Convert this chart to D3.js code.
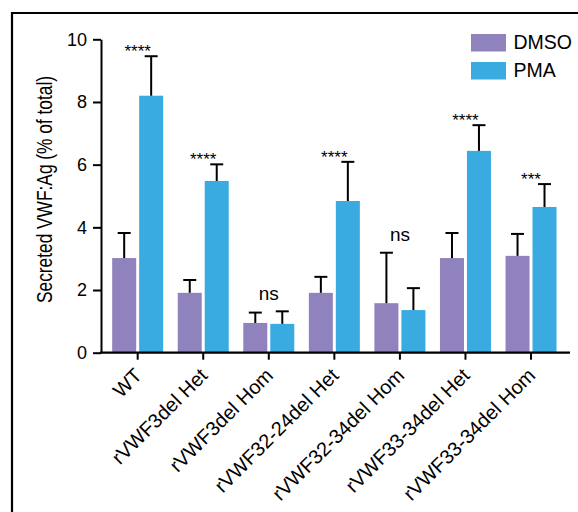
<!DOCTYPE html>
<html>
<head>
<meta charset="utf-8">
<script src="https://cdn.jsdelivr.net/npm/d3@7"></script>
<style>
  body { margin: 0; background: #fff; }
  svg text { font-family: "Liberation Sans", Arial, Helvetica, sans-serif; }
</style>
</head>
<body>
<script>
// data
const groups = ['WT', 'rVWF3del Het', 'rVWF3del Hom', 'rVWF32-24del Het',
                'rVWF32-34del Hom', 'rVWF33-34del Het', 'rVWF33-34del Hom']
const series = ['DMSO', 'PMA']
const dmso = [3.02, 1.91, 0.95, 1.91, 1.58, 3.02, 3.09]
const dmsoErr = [0.80, 0.41, 0.33, 0.51, 1.61, 0.80, 0.70]
const pma = [8.20, 5.48, 0.92, 4.84, 1.36, 6.44, 4.65]
const pmaErr = [1.26, 0.53, 0.40, 1.25, 0.70, 0.82, 0.73]
const signif = ['****', '****', 'ns', '****', 'ns', '****', '***']
const yTicks = [0, 2, 4, 6, 8, 10]

const colors = {DMSO: '#9083bd', PMA: '#39abe1'}

let width = 578, height = 512

const svg = d3.select('body')
    .append('svg')
    .attr('width', width)
    .attr('height', height)

// frame (only left and top visible)
svg.append('path')
    .attr('d', 'M12,512V13H578')
    .attr('fill', 'none')
    .attr('stroke', '#000')
    .attr('stroke-width', 2.2)

const xScale = d3.scaleBand()
    .domain(groups)
    .range([104.9, 563.8])
    .padding(0)

const subScale = d3.scaleBand()
    .domain(series)
    .range([-25.5, 25.5])
    .paddingInner(0.11)

const yScale = d3.scaleLinear()
    .domain([0, 10])
    .range([352.7, 39.3])

const rows = groups.map((g, i) => ({
    group: g,
    vals: [
        {key: 'DMSO', v: dmso[i], e: dmsoErr[i]},
        {key: 'PMA', v: pma[i], e: pmaErr[i]}
    ],
    sig: signif[i]
}))

const cx = g => xScale(g) + xScale.bandwidth() / 2

// bars
const grp = svg.selectAll('g.grp')
    .data(rows)
    .enter()
    .append('g')
    .attr('class', 'grp')
    .attr('transform', d => 'translate(' + cx(d.group) + ',0)')

grp.selectAll('rect')
    .data(d => d.vals)
    .enter()
    .append('rect')
    .attr('x', d => subScale(d.key))
    .attr('width', subScale.bandwidth())
    .attr('y', d => yScale(d.v))
    .attr('height', d => yScale(0) - yScale(d.v))
    .attr('fill', d => colors[d.key])

// error bars (upper only)
const err = grp.selectAll('g.err')
    .data(d => d.vals)
    .enter()
    .append('g')
    .attr('class', 'err')
    .attr('stroke', '#000')
    .attr('stroke-width', 2)

err.append('line')
    .attr('x1', d => subScale(d.key) + subScale.bandwidth() / 2)
    .attr('x2', d => subScale(d.key) + subScale.bandwidth() / 2)
    .attr('y1', d => yScale(d.v))
    .attr('y2', d => yScale(d.v + d.e))

err.append('line')
    .attr('x1', d => subScale(d.key) + subScale.bandwidth() / 2 - 6.5)
    .attr('x2', d => subScale(d.key) + subScale.bandwidth() / 2 + 6.5)
    .attr('y1', d => yScale(d.v + d.e))
    .attr('y2', d => yScale(d.v + d.e))

// significance labels
grp.append('text')
    .attr('x', 0)
    .attr('y', d => {
        const top = yScale(d3.max(d.vals, v => v.v + v.e))
        return d.sig === 'ns' ? top - 11.5 : top + 1
    })
    .attr('text-anchor', 'middle')
    .attr('font-size', d => d.sig === 'ns' ? '19px' : '17px')
    .text(d => d.sig)

// y axis
const yAxis = d3.axisLeft(yScale)
    .tickValues(yTicks)
    .tickSize(8)
    .tickSizeOuter(0)
    .tickPadding(6)

const yG = svg.append('g')
    .attr('transform', 'translate(101,0)')
    .call(yAxis)
yG.selectAll('path, line').attr('stroke', '#000').attr('stroke-width', 2)
yG.selectAll('text').attr('font-size', '18px').attr('fill', '#000')
    .style('font-family', '"Liberation Sans", Arial, sans-serif')

// x axis
svg.append('line')
    .attr('x1', 100)
    .attr('x2', 570)
    .attr('y1', yScale(0))
    .attr('y2', yScale(0))
    .attr('stroke', '#000')
    .attr('stroke-width', 2.2)

const xAxis = d3.axisBottom(xScale).tickSize(7).tickSizeOuter(0)
const xG = svg.append('g')
    .attr('transform', 'translate(0,' + yScale(0) + ')')
    .call(xAxis)
xG.select('.domain').remove()
xG.selectAll('line').attr('stroke', '#000').attr('stroke-width', 2)
xG.selectAll('text')
    .attr('font-size', '20px')
    .attr('fill', '#000')
    .style('font-family', '"Liberation Sans", Arial, sans-serif')
    .attr('text-anchor', 'end')
    .attr('x', 0)
    .attr('y', 0)
    .attr('dy', 0)
    .attr('transform', 'translate(5.5,24) rotate(-45)')

// y label
svg.append('text')
    .attr('transform', 'translate(52,189.5) rotate(-90)')
    .attr('text-anchor', 'middle')
    .attr('font-size', '22px')
    .attr('textLength', 227)
    .attr('lengthAdjust', 'spacingAndGlyphs')
    .text('Secreted VWF:Ag (% of total)')

// legend
const legend = svg.selectAll('g.leg')
    .data(series)
    .enter()
    .append('g')
    .attr('class', 'leg')
    .attr('transform', (d, i) => 'translate(471,' + (34 + i * 28) + ')')

legend.append('rect')
    .attr('width', 35)
    .attr('height', 17.5)
    .attr('fill', d => colors[d])

legend.append('text')
    .attr('x', 42.5)
    .attr('y', 15.2)
    .attr('font-size', '19.5px')
    .text(d => d)
</script>
</body>
</html>
